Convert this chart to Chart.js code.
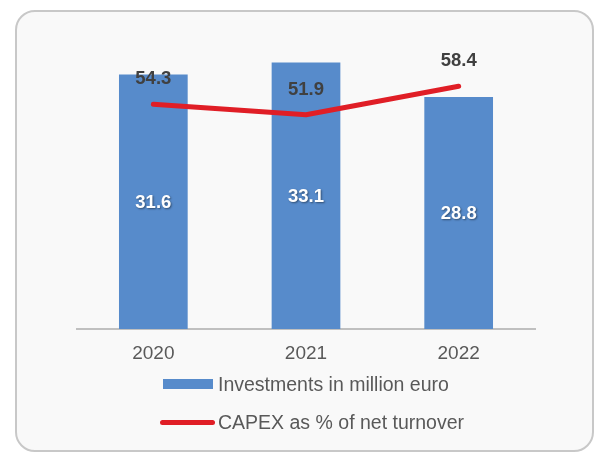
<!DOCTYPE html>
<html lang="en">

<head>
    <meta charset="UTF-8">
    <title>Investments and CAPEX</title>
    <script src="https://cdn.jsdelivr.net/npm/chart.js"></script>
    <style>
        body {
            margin: 0;
            background: #ffffff;
            font-family: 'Liberation Sans', Arial, sans-serif;
        }

        .frame {
            position: absolute;
            left: 15px;
            top: 10px;
            width: 579px;
            height: 442px;
            box-sizing: border-box;
            border: 2px solid #c8c8c8;
            border-radius: 20px;
            background: #f9f9f9;
        }

        #capexChart {
            position: absolute;
            left: 0;
            top: 0;
        }

        .legend-item {
            position: absolute;
            left: 160px;
            height: 20px;
            display: flex;
            align-items: center;
            color: #595959;
            font-size: 19.5px;
        }

        .swatch {
            width: 50px;
            margin: 0 5px 0 3px;
        }

        .swatch.bar {
            height: 10px;
            background: #578bcb;
        }

        .swatch.line {
            width: 55px;
            height: 5px;
            margin-left: 0;
            margin-right: 3px;
            border-radius: 3px;
            background: #e01e26;
        }
    </style>
</head>

<body>
    <div class="frame"></div>
    <canvas id="capexChart" width="595" height="453"></canvas>
    <div class="legend-item" style="top: 374px;"><span class="swatch bar"></span>Investments in million euro</div>
    <div class="legend-item" style="top: 412px;"><span class="swatch line"></span>CAPEX as % of net turnover</div>

    <script>
        const years = ['2020', '2021', '2022'];
        const investments = [31.6, 33.1, 28.8];
        const capexPct = [54.3, 51.9, 58.4];

        const FONT = "'Liberation Sans', Arial, sans-serif";

        // value labels: white inside the bars, dark above the line points
        const valueLabels = {
            id: 'valueLabels',
            afterDatasetsDraw(chart) {
                const ctx = chart.ctx;
                ctx.save();
                ctx.textAlign = 'center';
                ctx.textBaseline = 'middle';
                ctx.font = 'bold 18.5px ' + FONT;

                const bars = chart.getDatasetMeta(0).data;
                bars.forEach((bar, i) => {
                    ctx.save();
                    ctx.shadowColor = 'rgba(0, 0, 0, 0.45)';
                    ctx.shadowBlur = 2;
                    ctx.shadowOffsetX = 1;
                    ctx.shadowOffsetY = 1;
                    ctx.fillStyle = '#ffffff';
                    ctx.fillText(investments[i].toFixed(1), bar.x, (bar.y + bar.base) / 2 + 1);
                    ctx.restore();
                });

                const points = chart.getDatasetMeta(1).data;
                ctx.fillStyle = '#404040';
                points.forEach((pt, i) => {
                    ctx.fillText(capexPct[i].toFixed(1), pt.x, pt.y - 25);
                });
                ctx.restore();
            }
        };

        new Chart(document.getElementById('capexChart'), {
            data: {
                labels: years,
                datasets: [{
                    type: 'bar',
                    label: 'Investments in million euro',
                    data: investments,
                    backgroundColor: '#578bcb',
                    categoryPercentage: 1,
                    barPercentage: 0.45,
                    yAxisID: 'y',
                    order: 2
                }, {
                    type: 'line',
                    label: 'CAPEX as % of net turnover',
                    data: capexPct,
                    borderColor: '#e01e26',
                    borderWidth: 5,
                    borderCapStyle: 'round',
                    borderJoinStyle: 'round',
                    pointRadius: 0,
                    tension: 0,
                    yAxisID: 'y1',
                    order: 1
                }]
            },
            options: {
                responsive: false,
                devicePixelRatio: 1,
                animation: false,
                layout: {
                    padding: { left: 77, right: 60, top: 31, bottom: 0 }
                },
                plugins: {
                    legend: { display: false },
                    tooltip: { enabled: false }
                },
                scales: {
                    x: {
                        grid: { display: false, drawTicks: false },
                        border: { display: true, color: '#c0c0c0', width: 2 },
                        ticks: {
                            color: '#595959',
                            font: { family: FONT, size: 19 },
                            padding: 13
                        },
                        afterFit(scale) {
                            scale.height = 124;
                        }
                    },
                    y: {
                        display: false,
                        min: 0,
                        max: 37
                    },
                    y1: {
                        display: false,
                        position: 'right',
                        min: 3,
                        max: 71
                    }
                }
            },
            plugins: [valueLabels]
        });
    </script>
</body>

</html>
